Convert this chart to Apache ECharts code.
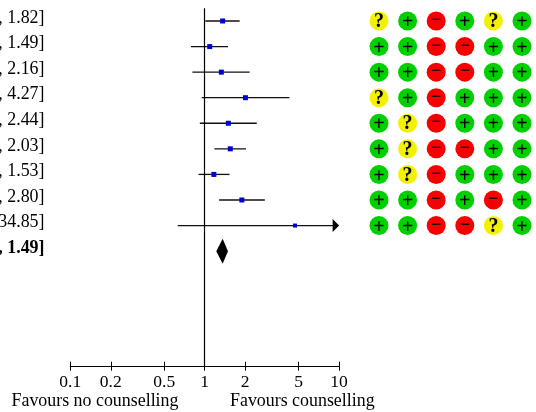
<!DOCTYPE html>
<html><head><meta charset="utf-8">
<style>html,body{margin:0;padding:0;background:#fff}#c{width:536px;height:412px}</style>
<script src="https://cdn.jsdelivr.net/npm/echarts@6/dist/echarts.min.js"></script>
</head><body><div id="c"></div>
<script>
var rowLabels = [", 1.82]", ", 1.49]", ", 2.16]", ", 4.27]", ", 2.44]", ", 2.03]", ", 1.53]", ", 2.80]", "34.85]", ", 1.49]", "", "", "", ""];
var estimates = [1.36, 1.09, 1.33, 2.01, 1.50, 1.55, 1.17, 1.89, 4.70];
var lowers = [1.01, 0.79, 0.81, 0.95, 0.92, 1.18, 0.90, 1.28, 0.63];
var uppers = [1.82, 1.49, 2.16, 4.27, 2.44, 2.03, 1.53, 2.80, 34.85];
var markerSizes = [5, 5, 5, 5, 5, 5, 5, 5, 4];
var pooled = [1.22, 1.36, 1.49];
var pooledRow = 9;
var xTicks = [0.1, 0.2, 0.5, 1, 2, 5, 10];
var riskColumns = ["A", "B", "C", "D", "E", "F"];
var riskMatrix = [
  ["?", "+", "-", "+", "?", "+"],
  ["+", "+", "-", "-", "+", "+"],
  ["+", "+", "-", "-", "+", "+"],
  ["?", "+", "-", "+", "+", "+"],
  ["+", "?", "-", "+", "+", "+"],
  ["+", "?", "-", "-", "+", "+"],
  ["+", "?", "-", "+", "+", "+"],
  ["+", "+", "-", "+", "-", "+"],
  ["+", "+", "-", "-", "?", "+"]
];
var riskColors = {"+": "#00d000", "-": "#f80000", "?": "#f2f200"};
var FONT = "Liberation Serif";
var FS = 17.9;
var XMAX = 10;

var ciData = estimates.map(function (e, i) { return [i, lowers[i], uppers[i]]; });
var markerData = estimates.map(function (e, i) { return {value: [e, i], symbolSize: markerSizes[i]}; });
var riskData = [];
riskMatrix.forEach(function (row, r) {
  row.forEach(function (s, c) {
    riskData.push({
      value: [c, r],
      itemStyle: {color: riskColors[s], opacity: 1},
      label: {
        formatter: s === "-" ? "\u2212" : s,
        fontSize: s === "-" ? 18 : 20,
        offset: s === "+" ? [0, 2] : (s === "?" ? [0, 1] : [0, -0.5])
      }
    });
  });
});

var chart = echarts.init(document.getElementById("c"), null, {renderer: "canvas"});
chart.setOption({
  animation: false,
  backgroundColor: "#fff",
  textStyle: {fontFamily: FONT},
  grid: [
    {left: 70.3, width: 268.8, top: 8.2, height: 358, containLabel: false, outerBoundsMode: "none"},
    {left: 364.7, width: 171.6, top: 8.2, height: 358, containLabel: false, outerBoundsMode: "none"}
  ],
  xAxis: [
    {type: "log", logBase: 10, min: 0.1, max: XMAX, gridIndex: 0, position: "bottom",
      axisLine: {show: true, onZero: false, lineStyle: {color: "#000", width: 1.2}},
      axisTick: {show: true, length: 4.5, customValues: xTicks, lineStyle: {color: "#000", width: 1}},
      axisLabel: {customValues: xTicks, color: "#000", fontFamily: FONT, fontSize: 17.5, margin: 7, showMinLabel: true, showMaxLabel: true,
        hideOverlap: false, formatter: function (v) { return String(+(+v).toPrecision(3)); }},
      splitLine: {show: false}, minorTick: {show: false}},
    {type: "log", logBase: 10, min: 0.1, max: XMAX, gridIndex: 0, position: "bottom",
      axisLine: {show: false},
      axisTick: {show: true, inside: true, length: 4.5, customValues: xTicks, lineStyle: {color: "#000", width: 1}},
      axisLabel: {show: false}, splitLine: {show: false}},
    {type: "category", data: riskColumns, gridIndex: 1, show: false}
  ],
  yAxis: [
    {type: "category", inverse: true, gridIndex: 0, data: rowLabels,
      axisLine: {show: false}, axisTick: {show: false}, splitLine: {show: false},
      axisLabel: {interval: 0, margin: 25.8, align: "right", color: "#000", fontFamily: FONT, fontSize: FS, padding: [0, 0, 6, 0],
        formatter: function (v, i) { return i === pooledRow ? "{b|" + v + "}" : v; },
        rich: {b: {fontWeight: "bold", fontFamily: FONT, fontSize: FS, color: "#000"}}}},
    {type: "category", inverse: true, gridIndex: 1, show: false, data: rowLabels.map(function (d, i) { return i; })}
  ],
  series: [
    {type: "custom", xAxisIndex: 0, yAxisIndex: 0, clip: false, silent: true,
      data: ciData, encode: {x: [1, 2], y: 0},
      renderItem: function (params, api) {
        var r = api.value(0), lo = api.value(1), hi = api.value(2);
        var a = api.coord([lo, r]), b = api.coord([Math.min(hi, XMAX), r]);
        var kids = [];
        if (hi > XMAX) {
          kids.push({type: "line", shape: {x1: a[0], y1: a[1], x2: b[0] - 6, y2: b[1]}, style: {stroke: "#111", lineWidth: 1.3}});
          kids.push({type: "polygon", shape: {points: [[b[0], b[1]], [b[0] - 6.5, b[1] - 6.5], [b[0] - 6.5, b[1] + 6.5]]}, style: {fill: "#000"}});
        } else {
          kids.push({type: "line", shape: {x1: a[0], y1: a[1], x2: b[0], y2: b[1]}, style: {stroke: "#111", lineWidth: 1.3}});
        }
        return {type: "group", children: kids};
      }},
    {type: "line", xAxisIndex: 0, yAxisIndex: 0, data: [], silent: true,
      markLine: {silent: true, symbol: "none", label: {show: false}, animation: false,
        lineStyle: {color: "#000", width: 1.2, type: "solid"}, data: [{xAxis: 1}]}},
    {type: "scatter", xAxisIndex: 0, yAxisIndex: 0, symbol: "rect", silent: true, z: 5,
      data: markerData, itemStyle: {color: "#0000d8", opacity: 1}},
    {type: "custom", xAxisIndex: 0, yAxisIndex: 0, clip: false, silent: true, z: 5,
      data: [[pooledRow, pooled[0], pooled[1], pooled[2]]], encode: {x: [1, 3], y: 0},
      renderItem: function (params, api) {
        var r = api.value(0);
        var l = api.coord([api.value(1), r]), m = api.coord([api.value(2), r]), h = api.coord([api.value(3), r]);
        return {type: "polygon", shape: {points: [[l[0], l[1]], [m[0], m[1] - 12.5], [h[0], h[1]], [m[0], m[1] + 12.5]]}, style: {fill: "#000"}};
      }},
    {type: "scatter", xAxisIndex: 2, yAxisIndex: 1, symbol: "circle", symbolSize: 19, silent: true,
      data: riskData,
      label: {show: true, position: "inside", color: "#000", fontFamily: FONT, fontWeight: "bold", fontSize: 18}}
  ],
  graphic: [
    {type: "text", left: 11.5, top: 392, style: {text: "Favours no counselling", font: FS + "px 'Liberation Serif'", fill: "#000"}},
    {type: "text", left: 230, top: 392, style: {text: "Favours counselling", font: FS + "px 'Liberation Serif'", fill: "#000"}}
  ]
});
</script></body></html>
